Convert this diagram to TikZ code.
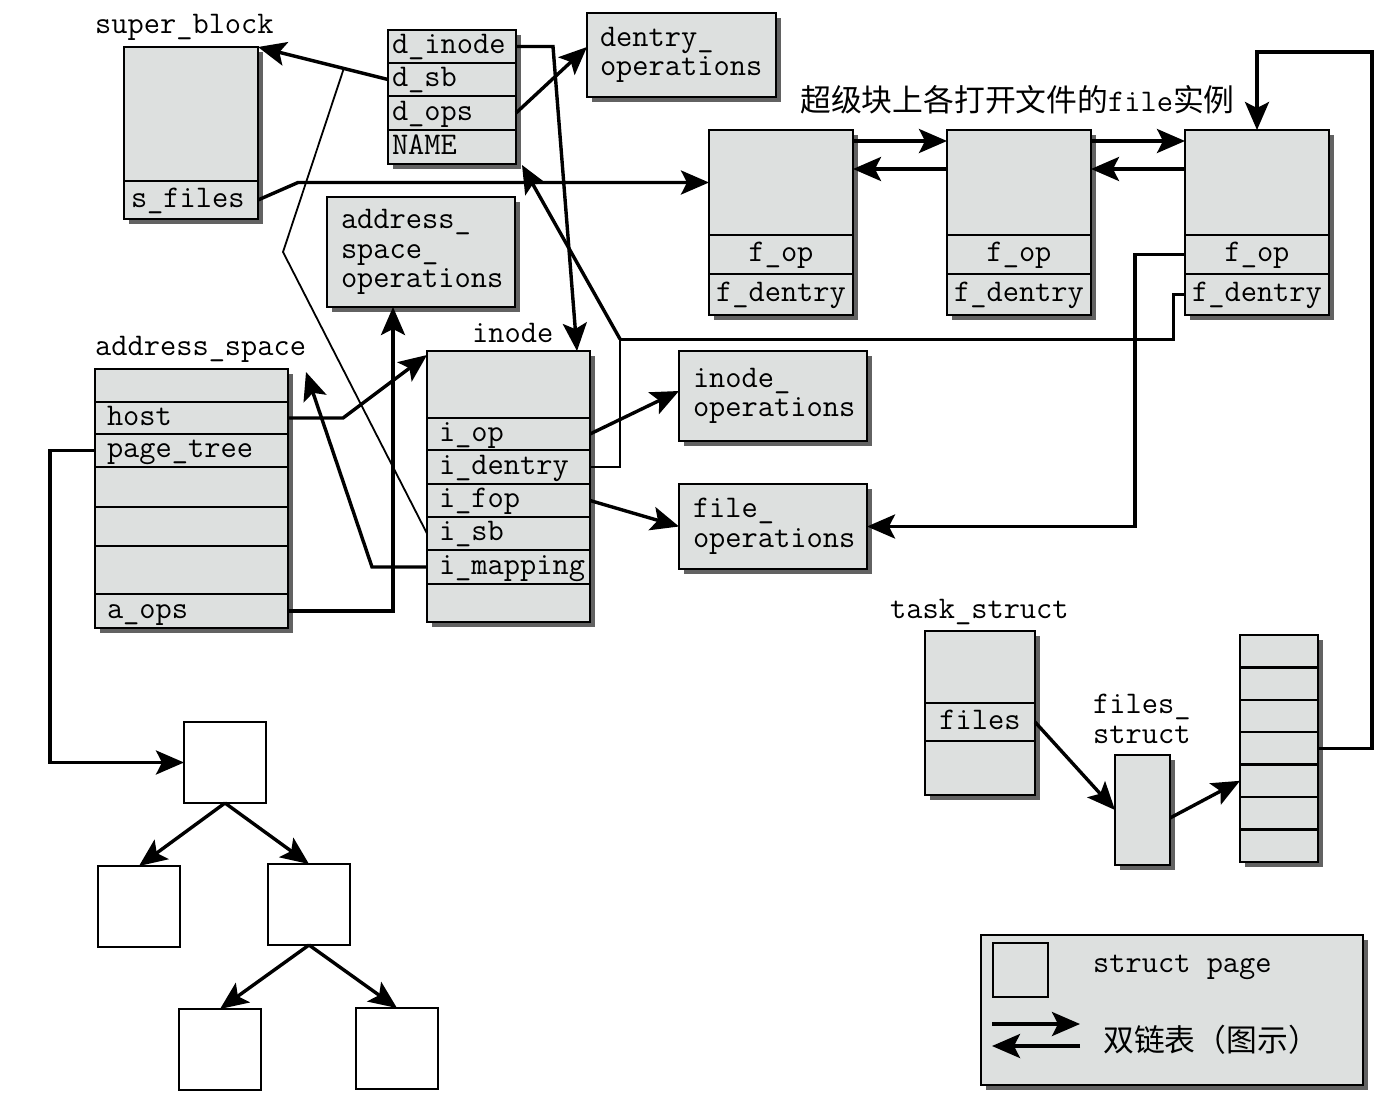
\documentclass[tikz,border=0pt]{standalone}
\usepackage{fontspec}
\usepackage{tikz}
\usetikzlibrary{arrows.meta,shadows,calc}
\newfontfamily\cjkfont{Noto Sans CJK SC}
\definecolor{boxgray}{RGB}{221,224,223}
\definecolor{shadowgray}{RGB}{98,98,98}
\newcommand{\monoFont}{\fontsize{31.5}{29.5}\selectfont\ttfamily}
\newcommand{\hanziFont}{\fontsize{30.8}{32}\selectfont\cjkfont}
\newcommand{\lpad}[1]{\hspace*{#1pt}}
\newcommand{\boxLine}{2.4pt}
\newcommand{\arrowLine}{3.4pt}

\tikzset{
  gbox/.style={draw=black, line width=\boxLine, fill=boxgray, inner sep=0pt, outer sep=0pt,
    anchor=north west, font=\monoFont, text width=#1pt, align=left,
    drop shadow={shadow xshift=5pt, shadow yshift=-5pt, fill=shadowgray, opacity=1}},
  cell/.style={gbox=#1, text height=20pt, text depth=6pt},
  page/.style={draw=black, line width=\boxLine, fill=white, inner sep=0pt, outer sep=0pt,
    anchor=north west, minimum width=82pt, minimum height=81pt},
  lbl/.style={font=\monoFont, inner sep=0pt, anchor=west},
  arr/.style={line width=\arrowLine, -{Stealth[length=28pt, width=24pt, inset=6pt]}},
  route/.style={line width=3pt},
  thinroute/.style={line width=1.8pt},
}

\begin{document}
\begin{tikzpicture}[x=1pt, y=-1pt]
\useasboundingbox (0,0) rectangle (1400,1119);

\node[lbl] (sblbl) at (95,27) {super\_block};
\node[cell=134, minimum height=134pt] (sbtop) at (124,47) {};
\node[cell=134, minimum height=38pt] (sfiles) at (124,181) {\lpad{7}s\_files};

\node[cell=128, minimum height=33pt] (dino) at (388,30) {\lpad{4}d\_inode};
\node[cell=128, minimum height=33pt] (dsb) at (388,63) {\lpad{4}d\_sb};
\node[cell=128, minimum height=34pt] (dop) at (388,96) {\lpad{4}d\_ops};
\node[cell=128, minimum height=34pt] (dname) at (388,130) {\lpad{4}NAME};

\node[gbox=189, minimum height=84pt] (dentops) at (587,13) {\lpad{13}dentry\_\\\lpad{13}operations};
\node[gbox=188, minimum height=110pt] (asops) at (327,197) {\lpad{14}address\_\\\lpad{14}space\_\\\lpad{14}operations};

\node[anchor=west, inner sep=0pt] (title) at (800,100) {{\hanziFont 超级块上各打开文件的}{\monoFont file}{\hanziFont 实例}};

\node[cell=144, minimum height=105pt] (f1top) at (709,130) {};
\node[cell=144, minimum height=39pt, align=center] (f1op) at (709,235) {f\_op};
\node[cell=144, minimum height=41pt, align=center] (f1den) at (709,274) {f\_dentry};
\node[cell=144, minimum height=105pt] (f2top) at (947,130) {};
\node[cell=144, minimum height=39pt, align=center] (f2op) at (947,235) {f\_op};
\node[cell=144, minimum height=41pt, align=center] (f2den) at (947,274) {f\_dentry};
\node[cell=144, minimum height=105pt] (f3top) at (1185,130) {};
\node[cell=144, minimum height=39pt, align=center] (f3op) at (1185,235) {f\_op};
\node[cell=144, minimum height=41pt, align=center] (f3den) at (1185,274) {f\_dentry};

\node[lbl] (aslbl) at (95,349) {address\_space};
\node[cell=193, minimum height=33pt] (astop) at (95,369) {};
\node[cell=193, minimum height=32pt] (ashost) at (95,402) {\lpad{12}host};
\node[cell=193, minimum height=33pt] (asptree) at (95,434) {\lpad{12}page\_tree};
\node[cell=193, minimum height=40pt] (asr4) at (95,467) {};
\node[cell=193, minimum height=39pt] (asr5) at (95,507) {};
\node[cell=193, minimum height=48pt] (asr6) at (95,546) {};
\node[cell=193, minimum height=34pt] (asaops) at (95,594) {\lpad{12}a\_ops};

\node[lbl] (ilbl) at (472,333) {inode};
\node[cell=163, minimum height=67pt] (itop) at (427,351) {};
\node[cell=163, minimum height=32pt] (iop) at (427,418) {\lpad{12}i\_op};
\node[cell=163, minimum height=34pt] (iden) at (427,450) {\lpad{12}i\_dentry};
\node[cell=163, minimum height=33pt] (ifop) at (427,484) {\lpad{12}i\_fop};
\node[cell=163, minimum height=33pt] (isb) at (427,517) {\lpad{12}i\_sb};
\node[cell=163, minimum height=34pt] (imap) at (427,550) {\lpad{12}i\_mapping};
\node[cell=163, minimum height=38pt] (ibot) at (427,584) {};

\node[gbox=188, minimum height=90pt] (iops) at (679,351) {\lpad{14}inode\_\\\lpad{14}operations};
\node[gbox=188, minimum height=85pt] (fops) at (679,484) {\lpad{14}file\_\\\lpad{14}operations};

\node[lbl] (tlbl) at (890,612) {task\_struct};
\node[cell=110, minimum height=72pt] (ttop) at (925,631) {};
\node[cell=110, minimum height=38pt, align=center] (tfiles) at (925,703) {files};
\node[cell=110, minimum height=54pt] (tbot) at (925,741) {};

\node[lbl, anchor=north west, align=left] (fslbl) at (1093,694) {files\_\\struct};
\node[cell=55, minimum height=110pt] (fstr) at (1115,755) {};

\foreach \k in {1,...,7}
  \node[cell=78, minimum height=32.4pt] (fd\k) at (1240,{635+(\k-1)*32.4}) {};

\node[page] (root) at (184,722) {};
\node[page] (pl) at (98,866) {};
\node[page] (pr) at (268,864) {};
\node[page] (pgl) at (179,1009) {};
\node[page] (pgr) at (356,1008) {};

\node[gbox=382, minimum height=150pt] (lgd) at (981,935) {};
\node[draw=black, line width=\boxLine, fill=boxgray, inner sep=0pt, anchor=north west, minimum width=55pt, minimum height=54pt] (lsq) at (992,942) {};
\node[lbl] (lgdpage) at (1093,967) {struct page};
\node[anchor=west, inner sep=0pt, font=\hanziFont] (lgdlist) at (1103,1040) {双链表（图示）};
\coordinate (lfa) at (992,1024);
\coordinate (lfb) at (1080,1024);
\coordinate (lba) at (1080,1046);
\coordinate (lbb) at (992,1046);
\draw[arr] (lfa) -- (lfb);
\draw[arr] (lba) -- (lbb);

\draw[arr] (dsb.west) -- (sbtop.north east);
\draw[thinroute] (isb.west) -- (283,252) -- ($(dsb.west)!0.34!(sbtop.north east)$);
\draw[arr] (dop.east) -- ([yshift=8pt]dentops.west);
\draw[arr] (dino.east) -- ++(37,0) -- ([xshift=-13pt]itop.north east);
\draw[arr] (sfiles.east) -- ++(40,-17.5) -- (f1top.west);

\draw[arr] ([yshift=41.5pt]f1top.east) -- ([yshift=41.5pt]f2top.west);
\draw[arr] ([yshift=13.5pt]f2top.west) -- ([yshift=13.5pt]f1top.east);
\draw[arr] ([yshift=41.5pt]f2top.east) -- ([yshift=41.5pt]f3top.west);
\draw[arr] ([yshift=13.5pt]f3top.west) -- ([yshift=13.5pt]f2top.east);

\coordinate (jn) at (620,339);
\draw[thinroute] (iden.east) -| (jn);
\draw[route] (f3den.west) -- ++(-12,0) |- (jn);
\draw[arr] (jn) -- ([xshift=6pt,yshift=-1pt]dname.south east);
\draw[arr] (f3op.west) -- ++(-50,0) |- (fops.east);

\draw[arr] (iop.east) -- ([yshift=5pt]iops.west);
\draw[arr] (ifop.east) -- (fops.west);
\draw[arr] (ashost.east) -- ++(55,0) -- ([yshift=-4pt]itop.north west);
\draw[arr] (imap.west) -- ++(-55,0) -- ([xshift=18pt,yshift=-3pt]astop.north east);
\draw[arr] (asaops.east) -| ([xshift=-28pt]asops.south);

\draw[arr] (asptree.west) -- ++(-45,0) |- (root.west);
\draw[arr] (root.south) -- (pl.north);
\draw[arr] (root.south) -- (pr.north);
\draw[arr] (pr.south) -- (pgl.north);
\draw[arr] (pr.south) -- (pgr.north);

\draw[arr] (tfiles.east) -- (fstr.west);
\draw[arr] ([yshift=-8pt]fstr.east) -- (fd5.west);
\coordinate (loopc) at (1372,52);
\draw[arr] (fd4.east) -| (loopc) -| (f3top.north);
\end{tikzpicture}
\end{document}
